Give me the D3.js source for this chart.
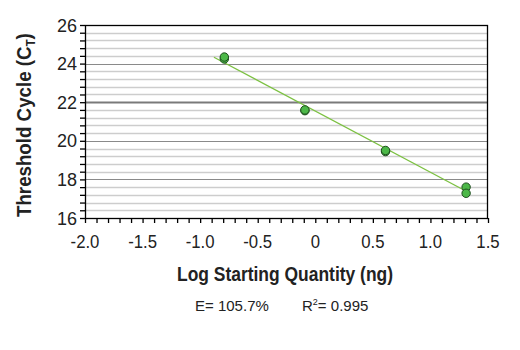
<!DOCTYPE html>
<html><head><meta charset="utf-8">
<script src="https://cdn.jsdelivr.net/npm/d3@7"></script>
<style>
body{margin:0;background:#fff;}
text{font-family:"Liberation Sans",Arial,sans-serif;}
</style></head>
<body><svg id="c" width="520" height="350"></svg>
<script>
const logQty = [-0.79, -0.79, -0.09, -0.09, 0.61, 0.61, 1.31, 1.31];
const ctValues = [24.24, 24.34, 21.56, 21.6, 19.44, 19.5, 17.6, 17.28];
const fitX = [-0.88, 1.29];
const fitY = [24.33, 17.45];
const xTickLabels = ["-2.0","-1.5","-1.0","-0.5","0","0.5","1.0","1.5"];
const yTickLabels = ["16","18","20","22","24","26"];
const xTitle = "Log Starting Quantity (ng)";
const yTitle = "Threshold Cycle (C";
const annotE = "E= 105.7%";
const annotR = "= 0.995";

const svg = d3.select("#c");
const L=85, R=488, T=25, B=218;
const x = d3.scaleLinear().domain([-2,1.5]).range([L,R]);
const y = d3.scaleLinear().domain([16,26]).range([B,T]);

// gridlines
const minor = d3.range(16.4, 26, 0.4).map(v=>+v.toFixed(1)).filter(v=>Math.abs(v/2-Math.round(v/2))>1e-6);
svg.append("g").selectAll("line").data(minor).join("line")
  .attr("x1",L).attr("x2",R).attr("y1",d=>Math.round(y(d))+0.5).attr("y2",d=>Math.round(y(d))+0.5)
  .attr("stroke","#cdcdcd").attr("stroke-width",1.5);
svg.append("g").selectAll("line").data([18,20,22,24]).join("line")
  .attr("x1",L).attr("x2",R).attr("y1",d=>Math.round(y(d))+0.5).attr("y2",d=>Math.round(y(d))+0.5)
  .attr("stroke",d=>d===22?"#7a7a7a":"#8a8a8a").attr("stroke-width",d=>d===22?2:1.2);

// frame
svg.append("rect").attr("x",L+0.5).attr("y",T+0.5).attr("width",R-L-1).attr("height",B-T)
  .attr("fill","none").attr("stroke","#000").attr("stroke-width",1.3);

// axes
const xAxis = d3.axisBottom(x).tickValues(d3.range(-20,16,1).map(v=>v/10)).tickSize(5).tickFormat("");
svg.append("g").attr("transform",`translate(0,${B})`).call(xAxis)
  .call(g=>{g.select(".domain").remove(); g.selectAll("line").attr("stroke","#000").attr("stroke-width",1.3);});
svg.append("g").selectAll("text").data(xTickLabels).join("text")
  .attr("x",d=>x(+d)).attr("y",248).attr("text-anchor","middle")
  .attr("font-size",18).attr("fill","#222").text(d=>d)
  .each(function(){ const w=this.getComputedTextLength(); d3.select(this).attr("textLength",w*0.93).attr("lengthAdjust","spacingAndGlyphs"); });

const yAxis = d3.axisLeft(y).tickValues(d3.range(16,26.01,0.4).map(v=>+v.toFixed(1))).tickSize(5).tickFormat("");
svg.append("g").attr("transform",`translate(${L},0)`).call(yAxis)
  .call(g=>{g.select(".domain").remove(); g.selectAll("line").attr("stroke","#000").attr("stroke-width",1.3);});
svg.append("g").selectAll("text").data(yTickLabels).join("text")
  .attr("x",77).attr("y",d=>y(+d)+6.5).attr("text-anchor","end")
  .attr("font-size",18).attr("fill","#222").text(d=>d);

// titles
svg.append("text").attr("x",285).attr("y",281).attr("text-anchor","middle")
  .attr("font-size",21).attr("font-weight","bold").attr("fill","#222")
  .attr("textLength",216).attr("lengthAdjust","spacingAndGlyphs").text(xTitle);

const ytg = svg.append("g").attr("transform","translate(31,125) rotate(-90)");
const ytInner = ytg.append("g");
const yt = ytInner.append("text").attr("x",0).attr("y",0)
  .attr("font-size",21).attr("font-weight","bold").attr("fill","#222");
yt.append("tspan").text(yTitle);
yt.append("tspan").attr("font-size",13).attr("dy",4).text("T");
yt.append("tspan").attr("dy",-4).text(")");
const bb = yt.node().getBBox();
const sc = 184/bb.width;
ytInner.attr("transform",`scale(${sc},1) translate(${-bb.width/2},0)`);

// annotation
svg.append("text").attr("x",195).attr("y",311).attr("font-size",15).attr("fill","#222").text(annotE);
const ra = svg.append("text").attr("x",302).attr("y",311).attr("font-size",15).attr("fill","#222");
ra.append("tspan").text("R");
ra.append("tspan").attr("font-size",9).attr("dy",-6).text("2");
ra.append("tspan").attr("dy",6).text(annotR);

// fit line
svg.append("line").attr("x1",x(fitX[0])).attr("y1",y(fitY[0])).attr("x2",x(fitX[1])).attr("y2",y(fitY[1]))
  .attr("stroke","#7cc142").attr("stroke-width",1.3);

// points
svg.append("g").selectAll("circle").data(logQty).join("circle")
  .attr("cx",d=>x(d)).attr("cy",(d,i)=>y(ctValues[i])).attr("r",4.2)
  .attr("fill","#4cb848").attr("stroke","#1f4d1f").attr("stroke-width",1);
</script></body></html>
